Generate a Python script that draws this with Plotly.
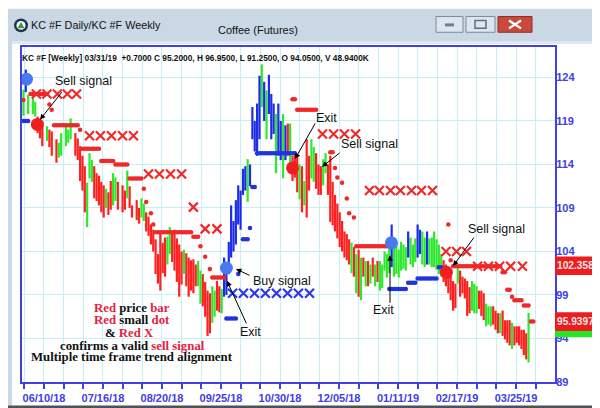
import plotly.graph_objects as go

# ------------------------------------------------------------------ data
tick_idx = [8.7, 33.7, 58.7, 83.7, 108.7, 133.7, 158.7, 183.7, 208.7]
tick_labels = ["06/10/18", "07/16/18", "08/20/18", "09/25/18", "10/30/18",
               "12/05/18", "01/11/19", "02/17/19", "03/25/19"]
y_ticks = [89, 94, 99, 104, 109, 114, 119, 124]

bar_idx = [0, 1, 2, 4, 5, 6, 7, 8, 10, 11, 12, 14, 15, 16, 18, 19, 20,
           22, 23, 24, 25, 26, 27, 28, 29, 30, 31, 32, 33, 34, 35, 36, 37, 38, 39, 40,
           42, 43, 44, 45, 46, 48, 49, 50, 51] + list(range(52, 215))
bar_high = [122.6, 124.9, 122.0, 122.0, 121.2, 119.5, 119.2, 118.9, 118.4, 118.0, 117.8,
            116.9, 116.5, 117.6, 118.4, 118.0, 119.3,
            117.6, 117.0, 116.1, 115.0, 113.8, 111.9, 115.3, 114.5, 113.8, 113.0, 112.7, 112.0,
            111.6, 111.2, 110.8, 112.1, 113.0, 112.5, 112.0,
            111.6, 111.0, 113.3, 111.5, 109.3, 109.9, 109.0, 110.1, 109.5,
            108.5, 108.0, 107.1, 106.5, 105.4, 103.7, 106.0, 105.0, 105.6, 105.7,
            106.8, 106.0, 106.5, 105.5, 104.8, 104.0, 104.2, 103.8, 103.3, 103.0,
            103.1, 102.5, 102.9, 101.8, 101.4, 100.5, 99.5, 99.2, 100.0, 99.5,
            100.6, 100.0, 99.7, 103.3, 102.0, 105.1, 109.3, 107.5, 109.9, 111.6,
            111.0, 113.5, 113.8, 114.6, 114.0, 120.6, 119.0, 121.0, 124.2, 125.5,
            123.5, 122.5, 124.3, 122.1, 121.0, 119.8, 121.0, 119.0, 119.8, 118.5,
            118.7, 118.7, 115.0, 115.5, 115.0, 114.0, 113.8, 112.1, 116.9, 115.0,
            116.9, 116.0, 115.3, 114.0, 113.8, 114.6, 115.3, 114.0, 115.0, 112.0,
            110.5, 109.5, 108.5, 107.5, 106.3, 106.0, 105.4, 105.0, 104.5, 103.7,
            104.2, 103.3, 103.3, 102.9, 102.9, 102.5, 103.3, 102.5, 102.9, 102.9,
            102.5, 104.0, 103.7, 104.5, 107.1, 104.8, 105.1, 104.2, 105.1, 104.8,
            104.5, 106.3, 105.6, 104.8, 105.5, 107.1, 106.5, 106.3, 105.6, 106.3,
            105.5, 105.6, 106.3, 105.4, 104.8, 103.7, 103.0, 102.5, 102.2, 101.8,
            100.6, 100.3, 102.2, 101.8, 101.1, 100.9, 100.6, 99.9, 100.6, 100.3,
            100.0, 99.5, 99.5, 99.2, 98.0, 97.7, 97.7, 97.7, 97.2, 96.9,
            96.9, 97.2, 96.1, 96.1, 96.1, 95.8, 95.4, 95.4, 95.4, 95.0,
            95.0, 94.6, 96.95]
bar_low = [119.6, 122.3, 119.8, 119.8, 119.5, 117.6, 117.0, 116.1, 116.7, 116.0, 115.0,
           114.2, 114.8, 115.0, 116.1, 116.5, 116.9,
           115.0, 114.5, 112.1, 111.0, 108.5, 106.8, 112.4, 112.0, 110.1, 109.8, 109.3, 108.5,
           107.9, 109.0, 108.2, 108.8, 109.3, 109.8, 108.8,
           108.5, 108.8, 110.1, 109.0, 107.9, 107.6, 107.2, 107.9, 107.5,
           106.3, 105.8, 104.8, 104.0, 101.4, 100.3, 99.5, 101.5, 101.1, 102.5,
           103.7, 102.8, 101.8, 100.5, 98.8, 100.2, 101.4, 100.0, 98.8, 99.5,
           99.2, 100.0, 100.0, 98.0, 97.7, 96.5, 94.3, 94.6, 95.8, 96.5,
           97.2, 97.0, 96.9, 98.8, 99.0, 101.4, 103.3, 104.0, 104.8, 107.1,
           106.5, 110.5, 111.0, 109.7, 111.5, 116.9, 115.5, 115.0, 116.9, 120.6,
           119.0, 116.9, 119.8, 116.9, 117.5, 113.0, 115.0, 114.5, 112.4, 114.5,
           115.0, 113.0, 112.1, 112.5, 110.8, 110.0, 108.5, 109.3, 107.9, 111.0,
           112.4, 112.0, 111.2, 110.5, 110.5, 111.6, 113.0, 110.5, 107.4, 107.0,
           106.3, 105.5, 104.5, 104.0, 103.3, 103.0, 102.5, 101.5, 101.1, 99.2,
           98.8, 98.4, 101.1, 100.0, 100.0, 100.3, 101.1, 100.0, 100.5, 99.5,
           99.8, 101.8, 101.0, 101.5, 102.2, 101.1, 101.4, 101.0, 101.8, 102.0,
           101.8, 103.3, 102.5, 102.2, 102.8, 103.3, 103.7, 102.5, 102.2, 102.5,
           102.5, 102.2, 102.2, 101.9, 101.4, 101.1, 100.5, 100.0, 99.2, 98.4,
           97.2, 97.5, 100.3, 98.8, 99.2, 98.6, 96.6, 96.9, 97.2, 96.9,
           96.9, 97.4, 96.6, 96.1, 95.4, 95.6, 95.4, 95.6, 95.0, 94.6,
           94.6, 94.3, 93.9, 93.5, 93.2, 92.8, 93.2, 93.5, 93.2, 92.8,
           92.1, 91.6, 91.25]
bar_dir = ("gbgggrrr" + "grr" + "rgg" + "ggg" + "rrrrrgggrrrrrgrrggr" + "rrgrr" + "rrgg"
           + "rrrrrrrrrggrrrrrgrrr" + "rrggrrrrggrrgbbbbbbb" + "bbbgbbbbbgbgbbbgbbgb"
           + "rgrrrgrgrrggrrrggrrr" + "rrrrrrrgrgrgrgrgrgrg" + "ggggbggggggbgggbbggb"
           + "ggggggrrrrrrgrrrrrgg" + "grrrgggrrrgrrrrgrrrr" + "rrg")

# trailing-stop small dots: (first bar, last bar, level)
red_dot_segments = [(0, 0, 121.4), (3, 10, 122.1), (11, 11, 120.9), (12, 12, 120.3),
                    (13, 23, 118.5), (24, 24, 118.0), (25, 32, 115.8), (33, 38, 114.4),
                    (39, 44, 114.0), (45, 50, 112.4), (51, 51, 111.2), (52, 52, 109.7),
                    (54, 54, 108.4), (55, 55, 107.1), (56, 71, 106.2), (72, 74, 105.7),
                    (75, 75, 104.6), (77, 77, 103.4), (79, 79, 102.0), (80, 85, 101.0),
                    (114, 115, 121.5), (116, 124, 120.3), (130, 131, 115.4), (132, 132, 113.6),
                    (133, 133, 112.5), (135, 135, 111.9), (137, 137, 110.1), (138, 138, 108.4),
                    (140, 140, 107.9), (141, 154, 104.6), (180, 180, 107.1), (181, 181, 103.0),
                    (182, 202, 102.3), (203, 204, 101.6), (205, 206, 99.6), (207, 207, 98.8),
                    (208, 211, 98.4), (212, 214, 97.8), (215, 216, 95.9397)]
blue_dot_segments = [(0, 2, 119.0), (86, 90, 96.3), (91, 91, 101.4), (93, 95, 105.4),
                     (96, 96, 106.7), (97, 98, 111.4), (99, 115, 115.3), (155, 162, 99.7),
                     (163, 166, 100.4), (167, 175, 100.9), (176, 177, 102.2)]

# weekly X markers
red_x_idx = [5.5, 10, 14.4, 18.6, 22.5, 28, 32.6, 37.3, 42, 46.6, 53, 57.6, 62.3, 67,
             72, 77, 82, 126.7, 131.4, 136, 140.7, 146.6, 150.8, 155.5, 159.7, 164.4,
             168.6, 173.3, 179, 183.5, 187.7, 192.4, 197, 201.7, 206.4, 211.4]
red_x_val = [122.1, 122.1, 122.1, 122.1, 122.1, 117.3, 117.3, 117.3, 117.3, 117.3,
             112.9, 112.9, 112.9, 112.9, 109.1, 106.6, 106.6, 117.5, 117.5, 117.5, 117.5,
             111.0, 111.0, 111.0, 111.0, 111.0, 111.0, 111.0, 104.0, 104.0, 104.0,
             102.3, 102.3, 102.3, 102.3, 102.3]
blue_x_idx = [88.6, 93.2, 97.9, 102.5, 107.2, 111.9, 116.5, 121.2]
blue_x_val = [99.2, 99.2, 99.2, 99.2, 99.2, 99.2, 99.2, 99.2]

# signal dots
buy_idx = [1.3, 86.0, 155.9]
buy_val = [123.8, 102.1, 105.0]
sell_idx = [5.9, 114.0, 179.2]
sell_val = [118.6, 113.6, 101.6]

stop_level = 102.358
last_dot = 95.9397
last_close = 95.2

# ------------------------------------------------------------------ styles
RED = "#ff1f1f"
GREEN = "#2ee82e"
BLUE = "#1c2ce8"
AX = "#4040e4"
GRID = "#c4f0f6"
TXTRED = "#e8213f"
SANS = "Liberation Sans, Arial, sans-serif"


def PX(x):
    return (x - 14) / 533.0


def PY(y):
    return (380 - y) / 341.0


def expand(segs):
    xs, ys = [], []
    for a, b, v in segs:
        for k in range(a, b + 1):
            xs.append(k)
            ys.append(v)
    return xs, ys


def bar_xy(code):
    xs, ys = [], []
    for i, h, l, c in zip(bar_idx, bar_high, bar_low, bar_dir):
        if c == code:
            xs += [i, i, None]
            ys += [l, h, None]
    return xs, ys


fig = go.Figure()
for code, col in (("r", RED), ("g", GREEN), ("b", BLUE)):
    xs, ys = bar_xy(code)
    fig.add_trace(go.Scatter(x=xs, y=ys, mode="lines", line=dict(color=col, width=2.2),
                             hoverinfo="skip"))

rx, ry = expand(red_dot_segments)
bx, by = expand(blue_dot_segments)
fig.add_trace(go.Scatter(x=rx, y=ry, mode="markers",
                         marker=dict(color="#f02828", size=4.5, line=dict(width=0))))
fig.add_trace(go.Scatter(x=bx, y=by, mode="markers",
                         marker=dict(color="#2233dd", size=4.5, line=dict(width=0))))

fig.add_trace(go.Scatter(x=red_x_idx, y=red_x_val, mode="markers",
                         marker=dict(symbol="x-thin", size=9, line=dict(color="#ee2a2a", width=2.2))))
fig.add_trace(go.Scatter(x=blue_x_idx, y=blue_x_val, mode="markers",
                         marker=dict(symbol="x-thin", size=9, line=dict(color="#2a3ae8", width=2.2))))

fig.add_trace(go.Scatter(x=buy_idx, y=buy_val, mode="markers",
                         marker=dict(color="#4a78f0", size=13, line=dict(width=0))))
fig.add_trace(go.Scatter(x=sell_idx, y=sell_val, mode="markers",
                         marker=dict(color="#f01e1e", size=13, line=dict(width=0))))

fig.update_layout(
    width=600, height=408, margin=dict(l=14, r=53, t=39, b=28),
    paper_bgcolor="white", plot_bgcolor="white", showlegend=False,
)
fig.update_xaxes(
    range=[-0.6, 225.2], tickmode="array", tickvals=tick_idx, ticktext=tick_labels,
    showgrid=True, gridcolor=GRID, gridwidth=1, zeroline=False,
    showline=True, linecolor=AX, linewidth=2, mirror=True,
    ticks="outside", ticklen=5, tickwidth=1.5, tickcolor=AX,
    tickfont=dict(family=SANS, size=11, color=AX, weight="bold"),
    minor=dict(tick0=tick_idx[0], dtick=25 / 3, showgrid=True, gridcolor=GRID,
               ticks="outside", ticklen=5, tickwidth=1.5, tickcolor=AX),
)
fig.update_yaxes(
    side="right", range=[89, 127.5], tickmode="array", tickvals=y_ticks,
    showgrid=True, gridcolor=GRID, gridwidth=1, zeroline=False,
    showline=True, linecolor=AX, linewidth=2, mirror=True, ticks="",
    ticklabelstandoff=-3,
    tickfont=dict(family=SANS, size=11, color=AX, weight="bold"),
)

shapes = []


def prect(x0, y0, x1, y1, fill, line=None, lw=0):
    shapes.append(dict(type="rect", xref="paper", yref="paper",
                       x0=PX(x0), x1=PX(x1), y0=PY(y1), y1=PY(y0),
                       fillcolor=fill, line=dict(color=line or fill, width=lw), layer="above"))


# window frame
prect(0, 0, 600, 33, "#cad7e5")
prect(0, 33, 600, 36, "#dfe8f1")
prect(0, 33, 4, 408, "#cad7e5")
prect(597, 0, 600, 408, "#4d5258")
prect(0, 404, 600, 408, "#4d5258")
# buttons
prect(428, 8, 455, 24, "#dde6ef", "#7b8a9c", 1)
prect(437, 15, 446, 18, "#6a7b8f")
prect(458, 8, 487, 24, "#dde6ef", "#7b8a9c", 1)
prect(467, 12, 478, 20, "rgba(0,0,0,0)", "#5d6e82", 1.5)
prect(490, 8, 524, 24, "#c94a3c", "#8b2f25", 1)
for (a, b, c, d) in ((501, 12, 513, 20), (501, 20, 513, 12)):
    shapes.append(dict(type="line", xref="paper", yref="paper", x0=PX(a), y0=PY(b),
                       x1=PX(c), y1=PY(d), line=dict(color="white", width=2.2), layer="above"))
# app icon
shapes.append(dict(type="circle", xref="paper", yref="paper", x0=PX(6), x1=PX(20),
                   y0=PY(24), y1=PY(10), fillcolor="#1e3552", line=dict(width=0), layer="above"))
shapes.append(dict(type="circle", xref="paper", yref="paper", x0=PX(8.5), x1=PX(17.5),
                   y0=PY(21.5), y1=PY(12.5), fillcolor="white", line=dict(width=0), layer="above"))
shapes.append(dict(type="path", xref="paper", yref="paper",
                   path="M %f %f L %f %f L %f %f Z" % (PX(13), PY(13.5), PX(16.5), PY(20),
                                                       PX(9.5), PY(20)),
                   fillcolor="#2f9e3a", line=dict(width=0), layer="above"))
# price boxes at right
half = 1.07
for val, col in ((last_close, "#27e627"), (last_dot, "#ee1c1c"), (stop_level, "#ee1c1c")):
    shapes.append(dict(type="rect", xref="paper", yref="y", x0=PX(547), x1=PX(597),
                       y0=val - half, y1=val + half, fillcolor=col, line=dict(width=0),
                       layer="above"))
fig.update_layout(shapes=shapes)

ann = []


def text(x, y, s, size=12.5, family=SANS, color="#111111", xanchor="center", bold=False):
    ann.append(dict(xref="paper", yref="paper", x=PX(x), y=PY(y), text=s, showarrow=False,
                    xanchor=xanchor, yanchor="middle", borderpad=0,
                    font=dict(family=family, size=size, color=color,
                              weight="bold" if bold else "normal")))


def arrow(tx, ty, hx, hy):
    ann.append(dict(xref="paper", yref="paper", x=PX(hx), y=PY(hy), ax=tx - hx, ay=ty - hy,
                    text="", showarrow=True, arrowhead=2, arrowsize=1.1, arrowwidth=1,
                    arrowcolor="#000000"))


text(22, 17, "KC #F Daily/KC #F Weekly", size=10.8, xanchor="left")
text(250, 22, "Coffee (Futures)", size=11)
text(13, 50, "KC #F [Weekly] 03/31/19  +0.7000 C 95.2000, H 96.9500, L 91.2500, "
             "O 94.0500, V 48.9400K", size=8.3, xanchor="left", bold=True)

text(75, 74, "Sell signal")
arrow(55, 84, 32, 113)
text(318, 111, "Exit")
arrow(308, 116, 287, 153)
text(361, 138, "Sell signal")
arrow(333, 146, 314, 161)
text(274, 277, "Buy signal")
arrow(243, 272, 228, 265)
text(242, 329, "Exit")
arrow(239, 321, 219, 277)
text(375, 307, "Exit")
arrow(382, 300, 382, 251)
text(488, 224, "Sell signal")
arrow(467, 232, 445, 262)

R = "<span style='color:%s'>%%s</span>" % TXTRED
serif = "Liberation Serif, Times New Roman, serif"
FS = 12.8
text(124, 305, (R % "Red") + " price " + (R % "bar"), size=FS, family=serif, bold=True)
text(124, 317, (R % "Red") + " small " + (R % "dot"), size=FS, family=serif, bold=True)
text(121, 330, "& " + (R % "Red X"), size=FS, family=serif, bold=True)
text(124, 343, "confirms a valid " + (R % "sell signal"), size=FS, family=serif, bold=True)
text(124, 355, "Multiple time frame trend alignment", size=FS, family=serif, bold=True)

for val in (stop_level, last_dot):
    ann.append(dict(xref="paper", yref="y", x=PX(548), y=val, text="%s" % val,
                    showarrow=False, xanchor="left", yanchor="middle", borderpad=0,
                    font=dict(family=SANS, size=10.2, color="#e6e6e6", weight="bold")))

fig.update_layout(annotations=ann)
fig.write_html("out.html")
